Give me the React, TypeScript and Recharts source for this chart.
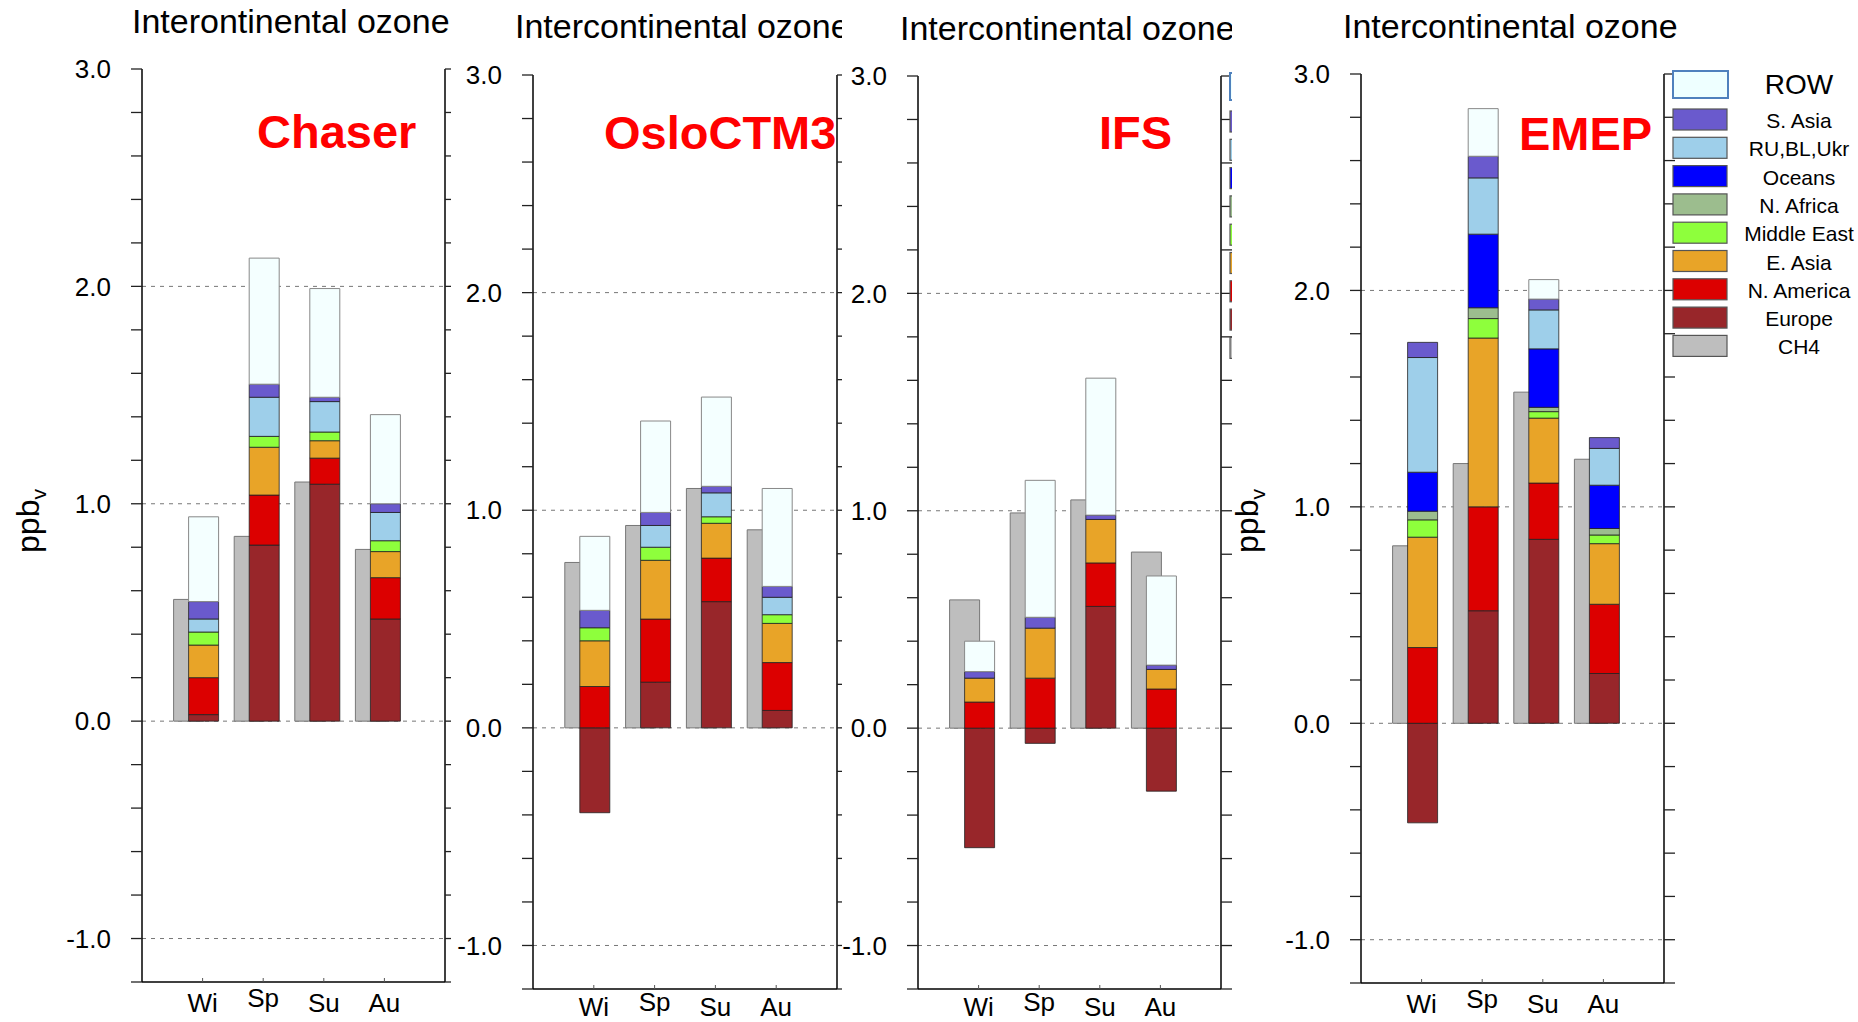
import React from "react";
import { ComposedChart, Bar, Line, XAxis, YAxis, CartesianGrid } from "recharts";

const FONT = "'Liberation Sans', Arial, Helvetica, sans-serif";

const seasons = ["Wi", "Sp", "Su", "Au"];
const yTicks = [-1.2, -1, -0.8, -0.6, -0.4, -0.2, 0, 0.2, 0.4, 0.6, 0.8, 1, 1.2, 1.4, 1.6, 1.8, 2, 2.2, 2.4, 2.6, 2.8, 3];
const yLabelled = [-1, 0, 1, 2, 3];
const gridValues = [2, 1, 0, -1];

// stacking order, bottom to top
const sourceKeys = ["europe", "nAmerica", "eAsia", "midEast", "nAfrica", "oceans", "russia", "sAsia", "row"];
const sourceNames = ["Europe", "N. America", "E. Asia", "Middle East", "N. Africa", "Oceans", "RU,BL,Ukr", "S. Asia", "ROW"];
const sourceColors = ["#98262A", "#DC0000", "#E8A428", "#8EFF3C", "#9CBD8E", "#0000FF", "#9ECFEA", "#6A5ACD", "#F4FFFF"];

// Chaser
const chaserCH4 = [0.56, 0.85, 1.1, 0.79];
const chaserEurope = [0.03, 0.81, 1.09, 0.47];
const chaserNAmerica = [0.17, 0.23, 0.12, 0.19];
const chaserEAsia = [0.15, 0.22, 0.08, 0.12];
const chaserMidEast = [0.06, 0.05, 0.04, 0.05];
const chaserNAfrica = [0, 0, 0, 0];
const chaserOceans = [0, 0, 0, 0];
const chaserRussia = [0.06, 0.18, 0.14, 0.13];
const chaserSAsia = [0.08, 0.06, 0.02, 0.04];
const chaserROW = [0.39, 0.58, 0.5, 0.41];

// OsloCTM3
const osloCH4 = [0.76, 0.93, 1.1, 0.91];
const osloEurope = [-0.39, 0.21, 0.58, 0.08];
const osloNAmerica = [0.19, 0.29, 0.2, 0.22];
const osloEAsia = [0.21, 0.27, 0.16, 0.18];
const osloMidEast = [0.06, 0.06, 0.03, 0.04];
const osloNAfrica = [0, 0, 0, 0];
const osloOceans = [0, 0, 0, 0];
const osloRussia = [0, 0.1, 0.11, 0.08];
const osloSAsia = [0.08, 0.06, 0.03, 0.05];
const osloROW = [0.34, 0.42, 0.41, 0.45];

// IFS
const ifsCH4 = [0.59, 0.99, 1.05, 0.81];
const ifsEurope = [-0.55, -0.07, 0.56, -0.29];
const ifsNAmerica = [0.12, 0.23, 0.2, 0.18];
const ifsEAsia = [0.11, 0.23, 0.2, 0.09];
const ifsMidEast = [0, 0, 0, 0];
const ifsNAfrica = [0, 0, 0, 0];
const ifsOceans = [0, 0, 0, 0];
const ifsRussia = [0, 0, 0, 0];
const ifsSAsia = [0.03, 0.05, 0.02, 0.02];
const ifsROW = [0.14, 0.63, 0.63, 0.41];

// EMEP
const emepCH4 = [0.82, 1.2, 1.53, 1.22];
const emepEurope = [-0.46, 0.52, 0.85, 0.23];
const emepNAmerica = [0.35, 0.48, 0.26, 0.32];
const emepEAsia = [0.51, 0.78, 0.3, 0.28];
const emepMidEast = [0.08, 0.09, 0.03, 0.04];
const emepNAfrica = [0.04, 0.05, 0.02, 0.03];
const emepOceans = [0.18, 0.34, 0.27, 0.2];
const emepRussia = [0.53, 0.26, 0.18, 0.17];
const emepSAsia = [0.07, 0.1, 0.05, 0.05];
const emepROW = [0, 0.22, 0.09, 0];

type Row = Record<string, number | string>;

function buildRows(ch4: number[], parts: number[][]): Row[] {
  return seasons.map((season, i) => {
    const row: Row = { season, ch4: ch4[i] };
    sourceKeys.forEach((k, j) => {
      row[k] = parts[j][i];
    });
    return row;
  });
}

const chaserRows = buildRows(chaserCH4, [chaserEurope, chaserNAmerica, chaserEAsia, chaserMidEast, chaserNAfrica, chaserOceans, chaserRussia, chaserSAsia, chaserROW]);
const osloRows = buildRows(osloCH4, [osloEurope, osloNAmerica, osloEAsia, osloMidEast, osloNAfrica, osloOceans, osloRussia, osloSAsia, osloROW]);
const ifsRows = buildRows(ifsCH4, [ifsEurope, ifsNAmerica, ifsEAsia, ifsMidEast, ifsNAfrica, ifsOceans, ifsRussia, ifsSAsia, ifsROW]);
const emepRows = buildRows(emepCH4, [emepEurope, emepNAmerica, emepEAsia, emepMidEast, emepNAfrica, emepOceans, emepRussia, emepSAsia, emepROW]);

const fmtY = (v: number) => (yLabelled.includes(Math.round(v * 10) / 10) ? v.toFixed(1) : "");
const noLabel = () => "";

const seasonTick = (shift: number, drop: number) => (props: any) => {
  const { x, y, payload } = props;
  const label = String(payload.value);
  const cx = x + shift;
  const lift = /[gjpqy]/.test(label) ? 5 : 0;
  return (
    <g>
      <line x1={cx} x2={cx} y1={y} y2={y - 4} stroke="#555" />
      <text x={cx} y={y + drop - lift} textAnchor="middle" fontSize={26} fill="#000" fontFamily={FONT}>
        {label}
      </text>
    </g>
  );
};

interface PanelProps {
  model: string;
  title: string;
  left: number;
  width: number;
  plotLeft: number;
  plotWidth: number;
  plotTop: number;
  plotBottom: number;
  titleX: number;
  titleY: number;
  nameX: number;
  nameY: number;
  drop: number;
  full: boolean; // axis title and legend text are only visible on uncovered panels
  rows: Row[];
}

function Legend({ x, top, labels }: { x: number; top: number; labels: boolean }) {
  const entries = [...sourceNames.map((n, i) => ({ n, c: sourceColors[i] })).reverse(), { n: "CH4", c: "#BEBEBE" }];
  return (
    <g fontFamily={FONT}>
      {entries.map((e, i) => {
        if (i === 0) {
          return (
            <g key={e.n}>
              <rect x={x} y={top - 3} width={55} height={27} fill="#EEFFFF" stroke="#4F81BD" strokeWidth={2} />
              {labels && (
                <text x={x + 126} y={top + 20} fontSize={28} textAnchor="middle" fill="#000">
                  {e.n}
                </text>
              )}
            </g>
          );
        }
        const by = top + 35 + 28.3 * (i - 1);
        return (
          <g key={e.n}>
            <rect x={x} y={by} width={54} height={21} fill={e.c} stroke="#555" strokeWidth={1.2} />
            {labels && (
              <text x={x + 126} y={by + 19} fontSize={21} textAnchor="middle" fill="#000">
                {e.n}
              </text>
            )}
          </g>
        );
      })}
    </g>
  );
}

function Panel(p: PanelProps) {
  const u = p.plotWidth / 5;
  const bar = 30;
  const o = Math.floor((u - 1.5 * bar) / 2);
  const padL = u - o - bar;
  const padR = u - padL;
  const shift = o + bar - u / 2;
  const chartLeft = p.plotLeft - 110;
  const chartWidth = p.plotWidth + 140;
  const plotRight = p.plotLeft + p.plotWidth;
  const axisLine = { stroke: "#000", strokeWidth: 1.5 };
  const tickLine = { stroke: "#222", strokeWidth: 1.3 };

  return (
    <div
      style={{
        position: "absolute",
        left: p.left,
        top: 0,
        width: p.width,
        height: 1022,
        overflow: "hidden",
        background: "#fff",
      }}
    >
      <div style={{ position: "absolute", left: chartLeft, top: 0 }}>
        <ComposedChart
          width={chartWidth}
          height={1022}
          data={p.rows}
          barGap={-bar / 2}
          stackOffset="sign"
          margin={{ top: p.plotTop, right: 10, bottom: 1022 - p.plotBottom - 40, left: 10 }}
        >
          <CartesianGrid xAxisId="bottom" yAxisId="left" vertical={false} horizontalValues={gridValues} stroke="#777" strokeDasharray="4 5" />
          <XAxis
            xAxisId="bottom"
            dataKey="season"
            height={40}
            padding={{ left: padL, right: padR }}
            interval={0}
            tickSize={0}
            tickMargin={0}
            tickLine={false}
            axisLine={axisLine}
            tick={seasonTick(shift, p.drop)}
          />
          <XAxis xAxisId="top" orientation="top" dataKey="season" height={0} padding={{ left: padL, right: padR }} tick={false} tickLine={false} axisLine={axisLine} />
          <YAxis
            yAxisId="left"
            domain={[-1.2, 3]}
            ticks={yTicks}
            interval={0}
            width={100}
            tickSize={11}
            tickMargin={20}
            tickFormatter={fmtY}
            tick={{ fontSize: 26, fill: "#000", fontFamily: FONT }}
            axisLine={axisLine}
            tickLine={tickLine}
          />
          <YAxis
            yAxisId="right"
            orientation="right"
            domain={[-1.2, 3]}
            allowDataOverflow
            ticks={yTicks}
            interval={0}
            width={20}
            tickSize={11}
            tickFormatter={noLabel}
            tick={{ fontSize: 1 }}
            axisLine={axisLine}
            tickLine={tickLine}
          />
          <Bar xAxisId="bottom" yAxisId="left" dataKey="ch4" stackId="a" barSize={bar} fill="#BEBEBE" stroke="#777" strokeWidth={1} isAnimationActive={false} />
          {sourceKeys.map((k, i) => (
            <Bar
              key={k}
              xAxisId="bottom"
              yAxisId="left"
              dataKey={k}
              stackId="b"
              barSize={bar}
              fill={sourceColors[i]}
              stroke={k === "row" ? "#888" : "#222"}
              strokeWidth={k === "row" ? 1 : 0.8}
              isAnimationActive={false}
            />
          ))}
          {/* invisible series so the mirrored right axis gets its scale and ticks */}
          <Line xAxisId="bottom" yAxisId="right" dataKey="ch4" stroke="none" dot={false} activeDot={false} legendType="none" isAnimationActive={false} />
        </ComposedChart>
      </div>
      <svg width={p.width} height={1022} style={{ position: "absolute", left: 0, top: 0, pointerEvents: "none" }}>
        <text x={p.titleX} y={p.titleY} fontSize={34} fill="#000" fontFamily={FONT}>
          {p.title}
        </text>
        <text x={p.nameX} y={p.nameY} fontSize={47} fontWeight="bold" fill="#FF0000" fontFamily={FONT}>
          {p.model}
        </text>
        {p.full && (
          <text transform={`translate(${p.plotLeft - 103},521) rotate(-90)`} textAnchor="middle" fontSize={32} fill="#000" fontFamily={FONT}>
            ppb
            <tspan fontSize={21} dy={7}>
              v
            </tspan>
          </text>
        )}
        <Legend x={plotRight + 9} top={p.plotTop} labels={p.full && p.model === "EMEP"} />
      </svg>
    </div>
  );
}

const panels: PanelProps[] = [
  { model: "Chaser", title: "Interontinental ozone", left: 0, width: 451, plotLeft: 142, plotWidth: 303, plotTop: 69, plotBottom: 982, titleX: 132, titleY: 33, nameX: 257, nameY: 148, drop: 30, full: true, rows: chaserRows },
  { model: "OsloCTM3", title: "Intercontinental ozone", left: 451, width: 391, plotLeft: 82, plotWidth: 304, plotTop: 75, plotBottom: 989, titleX: 64, titleY: 38, nameX: 153, nameY: 149, drop: 27, full: false, rows: osloRows },
  { model: "IFS", title: "Intercontinental ozone", left: 842, width: 390, plotLeft: 76, plotWidth: 303, plotTop: 76, plotBottom: 989, titleX: 58, titleY: 40, nameX: 257, nameY: 149, drop: 27, full: false, rows: ifsRows },
  { model: "EMEP", title: "Intercontinental ozone", left: 1232, width: 626, plotLeft: 129, plotWidth: 303, plotTop: 74, plotBottom: 983, titleX: 111, titleY: 38, nameX: 287, nameY: 150, drop: 30, full: true, rows: emepRows },
];

export default function App() {
  return (
    <div style={{ position: "absolute", left: 0, top: 0, width: 1858, height: 1022, background: "#fff", overflow: "hidden", fontFamily: FONT }}>
      {panels.map((p) => (
        <Panel key={p.model} {...p} />
      ))}
    </div>
  );
}
